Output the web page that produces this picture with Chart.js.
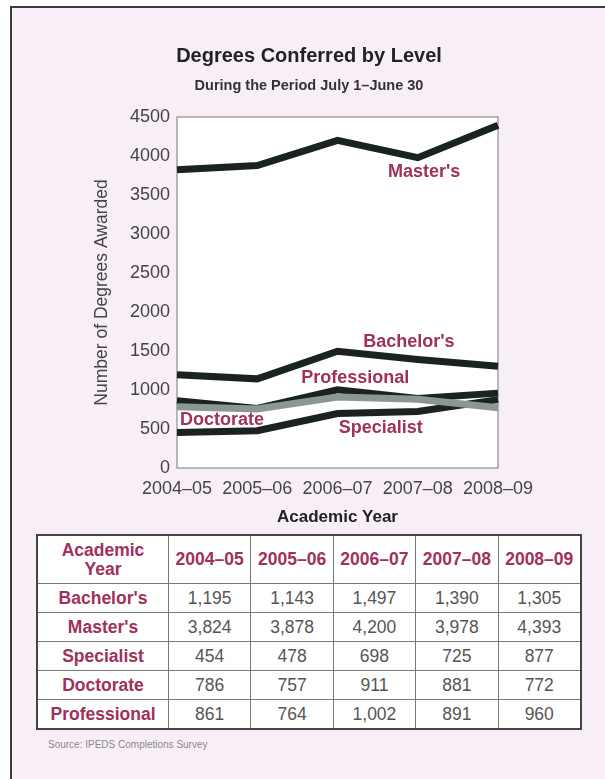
<!DOCTYPE html>
<html>
<head>
<meta charset="utf-8">
<script src="https://cdn.jsdelivr.net/npm/chart.js@4"></script>
<style>
    html, body { margin: 0; padding: 0; background: #ffffff; }
    body { width: 605px; height: 779px; position: relative; overflow: hidden; font-family: "Liberation Sans", Arial, sans-serif; }
    #frame { position: absolute; left: 10px; top: 6px; width: 620px; height: 800px; background: #f8eef7; border-left: 2px solid #3a3a3a; border-top: 2px solid #3a3a3a; }
    #chart-box { position: absolute; left: 0; top: 0; width: 605px; height: 539px; }
    .heading { position: absolute; left: 0; width: 618px; text-align: center; font-weight: bold; }
    #title { top: 43px; font-size: 20px; line-height: 24px; color: #222222; }
    #subtitle { top: 76px; font-size: 14.5px; line-height: 18px; color: #333333; }
    #data-table { position: absolute; left: 36px; top: 534px; width: 546px; border-collapse: collapse; border: 2px solid #444; background: #ffffff; }
    #data-table td, #data-table th { border: 1px solid #777; text-align: center; font-size: 17.5px; color: #555; padding: 0; height: 28px; }
    #data-table th { color: #a0305c; font-weight: bold; }
    #data-table tr:first-child th { height: 47px; line-height: 19px; }
    #data-table th.row-head { width: 130px; }
    #source { position: absolute; left: 48px; top: 739px; font-size: 10px; color: #8a8a8a; font-family: "Liberation Sans Narrow", "Liberation Sans", sans-serif; }
</style>
</head>
<body>
<div id="frame"></div>
<div id="chart-box"><canvas id="degreesChart"></canvas></div>
<div id="title" class="heading">Degrees Conferred by Level</div>
<div id="subtitle" class="heading">During the Period July 1–June 30</div>
<table id="data-table"></table>
<div id="source">Source: IPEDS Completions Survey</div>
<script>
// Data
var years = ['2004–05', '2005–06', '2006–07', '2007–08', '2008–09'];
var bachelors = [1195, 1143, 1497, 1390, 1305];
var masters = [3824, 3878, 4200, 3978, 4393];
var specialist = [454, 478, 698, 725, 877];
var doctorate = [786, 757, 911, 881, 772];
var professional = [861, 764, 1002, 891, 960];
var yTicks = [0, 500, 1000, 1500, 2000, 2500, 3000, 3500, 4000, 4500];

var labelColor = '#a0305c';
var lineColor = '#1b2322';
var fontFamily = '"Liberation Sans", Arial, sans-serif';

// inline series labels, placed in data coordinates (category index, value)
var seriesLabels = [
    { text: "Master's", x: 3.08, y: 3795 },
    { text: "Bachelor's", x: 2.89, y: 1610 },
    { text: 'Professional', x: 2.22, y: 1154 },
    { text: 'Doctorate', x: 0.56, y: 615 },
    { text: 'Specialist', x: 2.54, y: 513 }
];

// white plot background + border round the plot area
var plotFrame = {
    id: 'plotFrame',
    beforeDatasetsDraw: function (chart) {
        var a = chart.chartArea, ctx = chart.ctx;
        ctx.save();
        ctx.fillStyle = '#ffffff';
        ctx.fillRect(a.left, a.top, a.right - a.left, a.bottom - a.top);
        ctx.strokeStyle = '#8c8c8c';
        ctx.lineWidth = 1.2;
        ctx.strokeRect(a.left, a.top, a.right - a.left, a.bottom - a.top);
        ctx.restore();
    }
};

var inlineLabels = {
    id: 'inlineLabels',
    afterDatasetsDraw: function (chart) {
        var ctx = chart.ctx;
        var xs = chart.scales.x, ys = chart.scales.y;
        var step = xs.getPixelForValue(1) - xs.getPixelForValue(0);
        ctx.save();
        ctx.font = 'bold 18px ' + fontFamily;
        ctx.fillStyle = labelColor;
        ctx.textAlign = 'center';
        ctx.textBaseline = 'middle';
        seriesLabels.forEach(function (l) {
            ctx.fillText(l.text, xs.getPixelForValue(0) + l.x * step, ys.getPixelForValue(l.y));
        });
        ctx.restore();
    }
};

function makeSet(label, data, color, order) {
    return {
        label: label,
        data: data,
        borderColor: color,
        backgroundColor: color,
        borderWidth: 7,
        pointRadius: 0,
        tension: 0,
        fill: false,
        order: order
    };
}

var ctx = document.getElementById('degreesChart').getContext('2d');
var chart = new Chart(ctx, {
    type: 'line',
    data: {
        labels: years,
        datasets: [
            makeSet("Master's", masters, lineColor, 2),
            makeSet("Bachelor's", bachelors, lineColor, 2),
            makeSet('Professional', professional, lineColor, 2),
            makeSet('Doctorate', doctorate, '#8c988f', 1),
            makeSet('Specialist', specialist, lineColor, 2)
        ]
    },
    options: {
        responsive: true,
        maintainAspectRatio: false,
        animation: false,
        layout: { padding: { left: 88, right: 107, top: 117, bottom: 7 } },
        plugins: {
            legend: { display: false },
            tooltip: { enabled: false }
        },
        scales: {
            x: {
                offset: false,
                grid: { display: false, drawTicks: false },
                border: { display: false },
                ticks: {
                    color: '#444444',
                    padding: 10,
                    maxRotation: 0,
                    autoSkip: false,
                    font: { family: fontFamily, size: 18 }
                },
                title: {
                    display: true,
                    text: 'Academic Year',
                    color: '#222222',
                    font: { family: fontFamily, size: 17, weight: 'bold' },
                    padding: { top: 4, bottom: 4 }
                },
                afterFit: function (scale) { scale.height = 64; }
            },
            y: {
                min: 0,
                max: 4500,
                grid: { display: false, drawTicks: false },
                border: { display: false },
                afterBuildTicks: function (scale) {
                    scale.ticks = yTicks.map(function (v) { return { value: v }; });
                },
                ticks: {
                    color: '#444444',
                    padding: 7,
                    font: { family: fontFamily, size: 18 },
                    callback: function (value) { return String(value); }
                },
                title: {
                    display: true,
                    text: 'Number of Degrees Awarded',
                    color: '#444444',
                    font: { family: fontFamily, size: 17.5 },
                    padding: { top: 4, bottom: 4 }
                },
                afterFit: function (scale) { scale.width = 89; }
            }
        }
    },
    plugins: [plotFrame, inlineLabels]
});

// Data table under the chart
function fmt(n) { return n.toLocaleString('en-US'); }
var tableRows = [
    ["Bachelor's", bachelors],
    ["Master's", masters],
    ['Specialist', specialist],
    ['Doctorate', doctorate],
    ['Professional', professional]
];
var html = '<tr><th class="row-head">Academic<br>Year</th>';
years.forEach(function (y) { html += '<th>' + y + '</th>'; });
html += '</tr>';
tableRows.forEach(function (r) {
    html += '<tr><th class="row-head">' + r[0] + '</th>';
    r[1].forEach(function (v) { html += '<td>' + fmt(v) + '</td>'; });
    html += '</tr>';
});
document.getElementById('data-table').innerHTML = html;
</script>
</body>
</html>
